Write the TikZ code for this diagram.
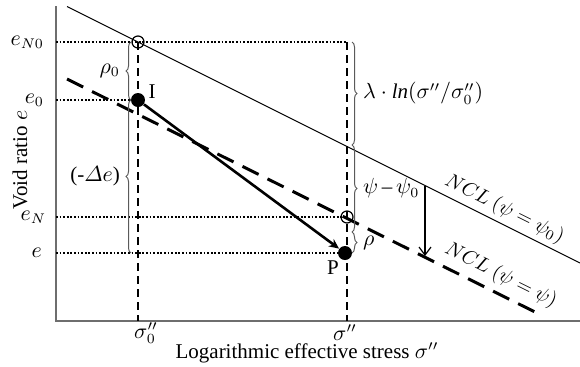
\documentclass[tikz,border=0pt]{standalone}
\usepackage{amsmath}
\usepackage{fontspec}
\setmainfont{Liberation Serif}
\usepackage{tikz}
\usetikzlibrary{arrows.meta, positioning, decorations.pathreplacing}
\definecolor{axisgray}{RGB}{110,110,110}
\definecolor{bracegray}{RGB}{90,90,90}

\begin{document}
\begin{tikzpicture}[x=0.5pt, y=-0.5pt,
        font=\fontsize{10.5}{12}\selectfont,
        axis/.style={axisgray, line width=0.8pt},
        dotline/.style={black, line width=0.9pt, dash pattern=on 0.9pt off 0.9pt},
        vdash/.style={black, line width=1pt, dash pattern=on 4pt off 2.5pt},
        ncldash/.style={black, line width=1.5pt, dash pattern=on 9pt off 5pt},
        openpt/.style={circle, draw, line width=0.6pt, inner sep=0pt, minimum size=6pt},
        fullpt/.style={circle, fill=black, inner sep=0pt, minimum size=7pt},
        brc/.style={decorate, decoration={brace, amplitude=2.5pt}, bracegray, line width=0.5pt},
        brclab/.style={text=black},
        ncllabel/.style={sloped, inner sep=1pt, font=\fontsize{10}{12}\selectfont},
        arrow/.style={-{Stealth[length=5pt, width=4.5pt]}, line width=1.3pt},
        thinarrow/.style={-{Straight Barb[length=4pt, width=6pt]}, line width=0.6pt}
    ]
    \useasboundingbox (0,0) rectangle (580,366);

    % axes
    \coordinate (origin) at (56,321);
    \coordinate (ytop) at (56,6);
    \coordinate (xend) at (580,321);
    \draw[axis] (ytop) -- (origin) -- (xend);

    % normal compression lines
    \coordinate (ncl0a) at (67,6.5);
    \coordinate (ncl0b) at (580,263);
    \draw[line width=0.5pt] (ncl0a) -- (ncl0b)
        node[ncllabel, pos=0.84, above=1pt] (ncl0lab) {$NCL\ (\psi=\psi_0)$};
    \coordinate (ncla) at (67,79);
    \coordinate (nclb) at (543,316);
    \draw[ncldash] (ncla) -- (nclb)
        node[ncllabel, pos=0.895, above=2pt] (ncllab) {$NCL\ (\psi=\psi)$};

    % points on the axes
    \coordinate (yN0) at (56,42);
    \coordinate (y0) at (56,100);
    \coordinate (yN) at (56,217);
    \coordinate (ye) at (56,253);
    \coordinate (s0) at (138,321);
    \coordinate (s) at (347,321);
    \coordinate (stop) at (347,42);

    % dotted levels and dashed stresses
    \draw[dotline] (yN0) -- (stop);
    \draw[dotline] (y0) -- (138,100);
    \draw[dotline] (yN) -- (347,217);
    \draw[dotline] (ye) -- (345,253);
    \draw[vdash] (138,42) -- (s0);
    \draw[vdash] (stop) -- (s);

    \node[openpt] (n0) at (138,42) {};
    \node[openpt] (nN) at (347,217) {};
    \node[fullpt] (I) at (138,100) {};
    \node[fullpt] (P) at (345,253) {};
    \draw[arrow] (I) -- (P);
    \node (lI) at (152,92) {I};
    \node (lP) at (333,268) {P};

    % shift between the lines
    \coordinate (a1) at (425,186);
    \coordinate (a2) at (425,256);
    \draw[thinarrow] (a1) -- (a2);

    % braces
    \draw[brc] (131,100) -- (131,42) node[brclab, midway, left=2pt] {$\rho_0$};
    \draw[brc] (131,253) -- (131,100) node[brclab, midway, left=2pt] {(-$\varDelta e$)};
    \draw[brc] (352,42) -- (352,145) node[brclab, midway, right=2pt] {$\lambda\cdot \mathit{ln}(\sigma''/\sigma_0'')$};
    \draw[brc] (352,145) -- (352,232) node[brclab, midway, right=2pt] {$\psi\,\text{--}\,\psi_0$};
    \draw[brc] (352,232) -- (352,253) node[brclab, midway, right=2pt] {$\rho$};

    % tick labels
    \node[anchor=east] (tN0) at (51,42) {$e_{N0}$};
    \node[anchor=east] (t0) at (51,100) {$e_0$};
    \node[anchor=east] (tN) at (53,217) {$e_N$};
    \node[anchor=east] (te) at (49,253) {$e$};
    \node (ts0) at (146,333) {$\sigma_0''$};
    \node (ts) at (345,333) {$\sigma''$};

    % axis titles
    \node (xlabel) at (307,353) {Logarithmic effective stress $\sigma''$};
    \node[rotate=90] (ylabel) at (20,160) {Void ratio $e$};
\end{tikzpicture}
\end{document}
